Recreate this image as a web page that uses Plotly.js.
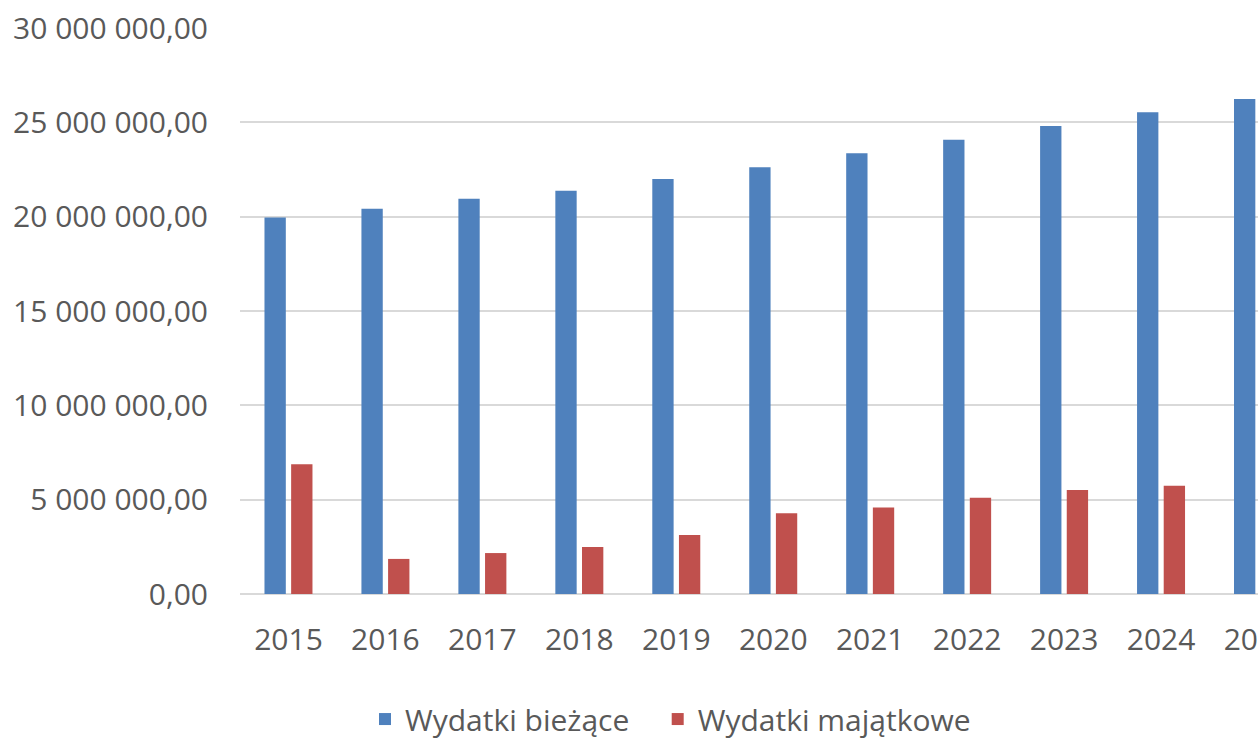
<!DOCTYPE html>
<html>
<head>
<meta charset="utf-8">
<script src="https://cdn.plot.ly/plotly-3.0.1.min.js"></script>
<style>
html,body{margin:0;padding:0;background:#fff;}
#chart{width:1258px;height:739px;}
</style>
</head>
<body>
<div id="chart"></div>
<script>
const years = ["2015","2016","2017","2018","2019","2020","2021","2022","2023","2024","2025"];
const wydatkiBiezace = [19960000,20420000,20950000,21380000,21990000,22620000,23360000,24080000,24810000,25530000,26240000];
const wydatkiMajatkowe = [6880000,1860000,2170000,2490000,3130000,4280000,4580000,5100000,5510000,5740000,null];
const seriesNames = ["Wydatki bieżące","Wydatki majątkowe"];

const FONT = "Open Sans, sans-serif";
const TXT = "#595959";
const FS = 30;
const PAD = "\u00A0\u00A0\u00A0";

const traces = [
  {type:"bar", name:seriesNames[0] + PAD, x:years, y:wydatkiBiezace, marker:{color:"#4F81BD"}, hoverinfo:"none"},
  {type:"bar", name:seriesNames[1], x:years, y:wydatkiMajatkowe, marker:{color:"#C0504D"}, hoverinfo:"none"}
];

const layout = {
  width:1258, height:739,
  margin:{l:240, r:0, t:28, b:145, pad:0},
  paper_bgcolor:"#fff", plot_bgcolor:"#fff",
  separators:", ",
  barmode:"group", bargap:0.45, bargroupgap:0.2,
  font:{family:FONT, color:TXT, size:FS},
  xaxis:{type:"category", range:[-0.5,10], automargin:false, showgrid:false, showline:false,
         zeroline:false, ticks:"", ticklabelstandoff:25, tickfont:{family:FONT, size:FS, color:TXT},
         ticklabeloverflow:"allow", fixedrange:true},
  yaxis:{range:[0,30000000], dtick:5000000, tickformat:",.2f", automargin:false,
         showgrid:true, gridcolor:"#d9d9d9", gridwidth:2, zeroline:true, zerolinecolor:"#d9d9d9", zerolinewidth:2,
         showline:false, ticks:"", ticklabelstandoff:31, tickfont:{family:FONT, size:FS, color:TXT}, fixedrange:true},
  showlegend:true,
  legend:{orientation:"h", xref:"container", yref:"container", x:0.533, xanchor:"center", y:0.027, yanchor:"middle",
          font:{family:FONT, size:FS, color:TXT}, bgcolor:"rgba(0,0,0,0)"}
};

Plotly.newPlot("chart", traces, layout, {displayModeBar:false, staticPlot:true});
</script>
</body>
</html>
